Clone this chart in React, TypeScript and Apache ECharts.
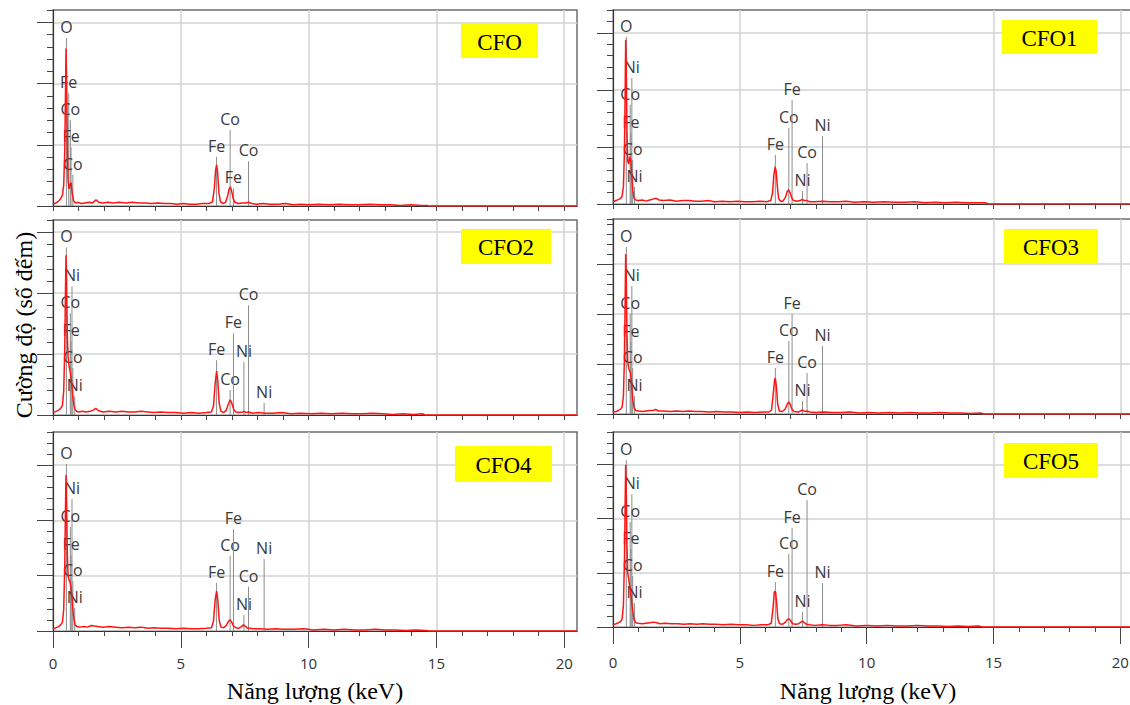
import React, { useEffect, useRef } from "react";
import * as echarts from "echarts";

// ---------- data ----------
const PANEL_NAMES = ["CFO", "CFO1", "CFO2", "CFO3", "CFO4", "CFO5"];
const X_MINOR_TICKS = [0, 1, 2, 3, 4, 5, 6, 7, 8, 9, 10, 11, 12, 13, 14, 15, 16, 17, 18, 19, 20];
const X_MAJOR_TICKS = [0, 5, 10, 15, 20];
const Y_MAJOR_TICKS = [0, 1, 2, 3];
const X_TITLE = "Năng lượng (keV)";
const Y_TITLE = "Cường độ (số đếm)";

// spectra: [energy keV, intensity (panel units)]
const SPEC_CFO: [number, number][] = [
  [0, 0.03], [0.12, 0.05], [0.22, 0.08], [0.3, 0.12], [0.37, 0.18], [0.42, 0.35], [0.46, 0.9], [0.49, 1.9], [0.51, 2.57], [0.53, 2.1], [0.56, 1.0], [0.59, 0.4], [0.63, 0.28], [0.67, 0.36], [0.71, 0.38], [0.75, 0.22], [0.8, 0.09], [0.88, 0.05], [0.98, 0.06], [1.1, 0.04], [1.25, 0.05], [1.4, 0.06], [1.55, 0.05], [1.68, 0.1], [1.8, 0.06], [1.95, 0.05], [2.15, 0.06], [2.35, 0.05], [2.6, 0.06], [2.85, 0.05], [3.1, 0.06], [3.35, 0.05], [3.6, 0.05], [3.85, 0.04], [4.1, 0.05], [4.35, 0.04], [4.6, 0.04], [4.85, 0.03], [5.1, 0.04], [5.35, 0.03], [5.6, 0.03], [5.85, 0.04], [6.1, 0.04], [6.24, 0.07], [6.31, 0.28], [6.36, 0.58], [6.4, 0.67], [6.44, 0.55], [6.49, 0.22], [6.55, 0.07], [6.65, 0.04], [6.75, 0.06], [6.83, 0.16], [6.89, 0.28], [6.94, 0.31], [6.99, 0.24], [7.05, 0.12], [7.12, 0.06], [7.25, 0.04], [7.4, 0.05], [7.55, 0.05], [7.65, 0.06], [7.78, 0.04], [7.95, 0.03], [8.2, 0.04], [8.5, 0.03], [8.8, 0.03], [9.1, 0.04], [9.4, 0.02], [9.7, 0.03], [10, 0.02], [10.4, 0.03], [10.8, 0.02], [11.2, 0.03], [11.6, 0.02], [12, 0.02], [12.4, 0.03], [12.8, 0.02], [13.2, 0.02], [13.6, 0.01], [14, 0.02], [14.4, 0.01], [14.65, 0.01], [14.7, 0], [20.5, 0],
];
const SPEC_CFO1: [number, number][] = [
  [0, 0.04], [0.12, 0.06], [0.22, 0.08], [0.3, 0.1], [0.36, 0.14], [0.41, 0.3], [0.45, 0.9], [0.48, 2.0], [0.5, 2.88], [0.52, 2.5], [0.55, 1.3], [0.58, 0.75], [0.62, 0.7], [0.66, 0.83], [0.7, 0.78], [0.74, 0.5], [0.78, 0.25], [0.83, 0.1], [0.9, 0.07], [1.0, 0.06], [1.15, 0.07], [1.3, 0.05], [1.45, 0.07], [1.6, 0.09], [1.7, 0.1], [1.82, 0.07], [2.0, 0.06], [2.25, 0.07], [2.5, 0.05], [2.75, 0.06], [3.0, 0.06], [3.25, 0.05], [3.5, 0.05], [3.75, 0.06], [4.0, 0.04], [4.3, 0.05], [4.6, 0.04], [4.9, 0.05], [5.2, 0.04], [5.5, 0.04], [5.8, 0.05], [6.05, 0.04], [6.22, 0.06], [6.29, 0.2], [6.34, 0.5], [6.39, 0.65], [6.43, 0.58], [6.48, 0.3], [6.53, 0.1], [6.6, 0.05], [6.7, 0.05], [6.8, 0.12], [6.87, 0.22], [6.92, 0.25], [6.98, 0.2], [7.05, 0.1], [7.12, 0.06], [7.25, 0.05], [7.38, 0.06], [7.46, 0.08], [7.54, 0.06], [7.65, 0.06], [7.75, 0.04], [7.95, 0.04], [8.25, 0.05], [8.55, 0.04], [8.9, 0.04], [9.2, 0.05], [9.5, 0.03], [9.9, 0.04], [10.3, 0.03], [10.7, 0.04], [11.1, 0.03], [11.5, 0.03], [11.9, 0.04], [12.3, 0.02], [12.7, 0.03], [13.1, 0.02], [13.5, 0.03], [13.9, 0.02], [14.3, 0.02], [14.7, 0.02], [14.8, 0], [20.5, 0],
];
const SPEC_CFO2: [number, number][] = [
  [0, 0.04], [0.12, 0.06], [0.22, 0.08], [0.3, 0.11], [0.37, 0.16], [0.42, 0.4], [0.46, 1.1], [0.49, 2.1], [0.51, 2.62], [0.53, 2.2], [0.56, 1.3], [0.59, 0.95], [0.63, 0.8], [0.67, 0.72], [0.71, 0.62], [0.75, 0.42], [0.79, 0.24], [0.85, 0.1], [0.92, 0.06], [1.0, 0.05], [1.15, 0.06], [1.3, 0.05], [1.45, 0.06], [1.58, 0.08], [1.67, 0.11], [1.78, 0.07], [1.95, 0.05], [2.2, 0.06], [2.45, 0.05], [2.7, 0.06], [2.95, 0.05], [3.2, 0.05], [3.45, 0.06], [3.7, 0.05], [3.95, 0.04], [4.2, 0.05], [4.5, 0.04], [4.8, 0.04], [5.1, 0.03], [5.4, 0.04], [5.7, 0.03], [6.0, 0.04], [6.2, 0.05], [6.28, 0.15], [6.34, 0.5], [6.4, 0.72], [6.45, 0.55], [6.5, 0.2], [6.57, 0.06], [6.68, 0.04], [6.78, 0.08], [6.86, 0.18], [6.93, 0.25], [6.99, 0.2], [7.06, 0.1], [7.14, 0.05], [7.3, 0.04], [7.42, 0.05], [7.48, 0.06], [7.56, 0.04], [7.66, 0.05], [7.8, 0.03], [8.05, 0.04], [8.3, 0.03], [8.6, 0.03], [8.95, 0.04], [9.3, 0.02], [9.7, 0.03], [10.1, 0.02], [10.5, 0.03], [10.9, 0.02], [11.3, 0.03], [11.7, 0.02], [12.1, 0.02], [12.5, 0.03], [12.9, 0.02], [13.3, 0.01], [13.7, 0.02], [14.1, 0.01], [14.45, 0.02], [14.55, 0], [20.5, 0],
];
const SPEC_CFO3: [number, number][] = [
  [0, 0.04], [0.12, 0.05], [0.22, 0.07], [0.3, 0.1], [0.36, 0.14], [0.41, 0.35], [0.45, 1.1], [0.48, 2.3], [0.5, 3.2], [0.52, 2.8], [0.55, 1.6], [0.58, 1.05], [0.62, 0.9], [0.66, 0.86], [0.7, 0.8], [0.74, 0.55], [0.78, 0.28], [0.83, 0.12], [0.9, 0.07], [1.0, 0.06], [1.15, 0.05], [1.3, 0.06], [1.45, 0.07], [1.58, 0.07], [1.68, 0.09], [1.8, 0.06], [2.0, 0.06], [2.25, 0.05], [2.5, 0.06], [2.75, 0.05], [3.0, 0.06], [3.25, 0.05], [3.5, 0.05], [3.8, 0.04], [4.1, 0.05], [4.4, 0.04], [4.7, 0.04], [5.0, 0.03], [5.3, 0.04], [5.6, 0.03], [5.9, 0.04], [6.15, 0.04], [6.25, 0.08], [6.32, 0.42], [6.37, 0.68], [6.4, 0.72], [6.44, 0.56], [6.49, 0.2], [6.56, 0.06], [6.68, 0.05], [6.79, 0.1], [6.87, 0.2], [6.93, 0.24], [6.99, 0.19], [7.06, 0.09], [7.14, 0.05], [7.3, 0.04], [7.4, 0.06], [7.47, 0.08], [7.55, 0.05], [7.65, 0.06], [7.76, 0.04], [8.0, 0.03], [8.3, 0.04], [8.65, 0.03], [9.0, 0.03], [9.35, 0.04], [9.7, 0.02], [10.1, 0.03], [10.5, 0.02], [10.9, 0.03], [11.3, 0.02], [11.7, 0.03], [12.1, 0.02], [12.5, 0.02], [12.9, 0.03], [13.3, 0.02], [13.7, 0.02], [14.1, 0.01], [14.5, 0.02], [14.6, 0], [20.5, 0],
];
const SPEC_CFO4: [number, number][] = [
  [0, 0.04], [0.12, 0.06], [0.22, 0.08], [0.3, 0.11], [0.37, 0.16], [0.42, 0.4], [0.46, 1.2], [0.49, 2.3], [0.51, 2.82], [0.53, 2.4], [0.56, 1.4], [0.59, 1.0], [0.63, 0.92], [0.67, 0.88], [0.71, 0.78], [0.75, 0.55], [0.8, 0.28], [0.86, 0.11], [0.94, 0.08], [1.05, 0.07], [1.2, 0.08], [1.35, 0.07], [1.5, 0.1], [1.62, 0.09], [1.75, 0.08], [1.95, 0.07], [2.2, 0.08], [2.45, 0.07], [2.7, 0.06], [2.95, 0.07], [3.2, 0.06], [3.45, 0.07], [3.7, 0.05], [3.95, 0.06], [4.2, 0.05], [4.5, 0.05], [4.8, 0.04], [5.1, 0.05], [5.4, 0.04], [5.7, 0.04], [6.0, 0.05], [6.2, 0.06], [6.28, 0.18], [6.34, 0.55], [6.4, 0.72], [6.45, 0.55], [6.5, 0.2], [6.57, 0.07], [6.68, 0.06], [6.78, 0.1], [6.87, 0.18], [6.93, 0.2], [6.99, 0.16], [7.06, 0.09], [7.15, 0.06], [7.28, 0.05], [7.38, 0.08], [7.45, 0.11], [7.52, 0.09], [7.6, 0.05], [7.7, 0.05], [7.85, 0.04], [8.1, 0.04], [8.4, 0.03], [8.7, 0.04], [9.0, 0.03], [9.4, 0.03], [9.8, 0.04], [10.2, 0.02], [10.6, 0.03], [11.0, 0.02], [11.4, 0.03], [11.8, 0.02], [12.2, 0.02], [12.6, 0.03], [13.0, 0.02], [13.4, 0.02], [13.8, 0.01], [14.2, 0.02], [14.6, 0.01], [14.7, 0], [20.5, 0],
];
const SPEC_CFO5: [number, number][] = [
  [0, 0.04], [0.12, 0.06], [0.22, 0.08], [0.3, 0.1], [0.36, 0.15], [0.41, 0.4], [0.45, 1.2], [0.48, 2.3], [0.5, 2.99], [0.52, 2.6], [0.55, 1.5], [0.58, 1.0], [0.62, 0.88], [0.66, 0.75], [0.7, 0.62], [0.74, 0.45], [0.78, 0.3], [0.83, 0.13], [0.9, 0.08], [1.0, 0.07], [1.15, 0.06], [1.3, 0.07], [1.45, 0.08], [1.6, 0.09], [1.72, 0.08], [1.85, 0.06], [2.05, 0.07], [2.3, 0.06], [2.55, 0.06], [2.8, 0.05], [3.05, 0.06], [3.3, 0.05], [3.55, 0.06], [3.8, 0.05], [4.05, 0.05], [4.35, 0.04], [4.65, 0.05], [4.95, 0.04], [5.25, 0.04], [5.55, 0.03], [5.85, 0.04], [6.1, 0.04], [6.24, 0.07], [6.31, 0.35], [6.36, 0.65], [6.41, 0.65], [6.45, 0.45], [6.5, 0.15], [6.57, 0.06], [6.68, 0.05], [6.8, 0.09], [6.88, 0.14], [6.94, 0.15], [7.0, 0.12], [7.08, 0.06], [7.2, 0.05], [7.32, 0.06], [7.4, 0.09], [7.47, 0.11], [7.54, 0.08], [7.63, 0.05], [7.75, 0.04], [7.95, 0.03], [8.25, 0.04], [8.55, 0.03], [8.85, 0.03], [9.2, 0.04], [9.6, 0.02], [10.0, 0.03], [10.4, 0.02], [10.8, 0.03], [11.2, 0.02], [11.6, 0.02], [12.0, 0.03], [12.4, 0.02], [12.8, 0.02], [13.2, 0.01], [13.6, 0.02], [14.0, 0.01], [14.4, 0.02], [14.55, 0], [20.5, 0],
];

// element markers: [label, energy keV, marker height (panel units)]
const MARK_CFO: [string, number, number][] = [
  ["O", 0.525, 2.74], ["Fe", 0.615, 1.84], ["Co", 0.678, 1.4], ["Fe", 0.705, 0.96], ["Co", 0.776, 0.51],
  ["Fe", 6.4, 0.8], ["Co", 6.93, 1.24], ["Fe", 7.06, 0.29], ["Co", 7.65, 0.73],
];
const MARK_CFO1: [string, number, number][] = [
  ["O", 0.525, 2.93], ["Ni", 0.743, 2.21], ["Co", 0.678, 1.74], ["Fe", 0.705, 1.25], ["Co", 0.776, 0.77], ["Ni", 0.851, 0.3],
  ["Fe", 6.4, 0.86], ["Co", 6.93, 1.33], ["Fe", 7.06, 1.82], ["Ni", 7.47, 0.23], ["Co", 7.65, 0.72], ["Ni", 8.26, 1.19],
];
const MARK_CFO2: [string, number, number][] = [
  ["O", 0.525, 2.75], ["Ni", 0.743, 2.11], ["Co", 0.678, 1.67], ["Fe", 0.705, 1.21], ["Co", 0.776, 0.77], ["Ni", 0.851, 0.31],
  ["Fe", 6.4, 0.9], ["Co", 6.93, 0.41], ["Fe", 7.06, 1.34], ["Ni", 7.47, 0.87], ["Co", 7.65, 1.8], ["Ni", 8.26, 0.2],
];
const MARK_CFO3: [string, number, number][] = [
  ["O", 0.525, 3.34], ["Ni", 0.743, 2.56], ["Co", 0.678, 2.0], ["Fe", 0.705, 1.44], ["Co", 0.776, 0.92], ["Ni", 0.851, 0.36],
  ["Fe", 6.4, 0.92], ["Co", 6.93, 1.46], ["Fe", 7.06, 2.0], ["Ni", 7.47, 0.26], ["Co", 7.65, 0.82], ["Ni", 8.26, 1.36],
];
const MARK_CFO4: [string, number, number][] = [
  ["O", 0.525, 3.02], ["Ni", 0.743, 2.39], ["Co", 0.678, 1.88], ["Fe", 0.705, 1.37], ["Co", 0.776, 0.9], ["Ni", 0.851, 0.42],
  ["Fe", 6.4, 0.87], ["Co", 6.93, 1.36], ["Fe", 7.06, 1.84], ["Ni", 7.47, 0.29], ["Co", 7.65, 0.8], ["Ni", 8.26, 1.3],
];
const MARK_CFO5: [string, number, number][] = [
  ["O", 0.525, 3.08], ["Ni", 0.743, 2.45], ["Co", 0.678, 1.94], ["Fe", 0.705, 1.44], ["Co", 0.776, 0.94], ["Ni", 0.851, 0.44],
  ["Fe", 6.4, 0.83], ["Co", 6.93, 1.35], ["Fe", 7.06, 1.83], ["Ni", 7.47, 0.28], ["Co", 7.65, 2.34], ["Ni", 8.26, 0.81],
];

const SPECTRA = [SPEC_CFO, SPEC_CFO1, SPEC_CFO2, SPEC_CFO3, SPEC_CFO4, SPEC_CFO5];
const MARKERS = [MARK_CFO, MARK_CFO1, MARK_CFO2, MARK_CFO3, MARK_CFO4, MARK_CFO5];
const Y_MAX = [3.2, 3.4, 3.2, 3.9, 3.6, 3.6];
const X_MAX = 20.5;

// ---------- layout ----------
const PANELS = [
  { left: 53, top: 10, width: 524, height: 196, bottomRow: false, box: [461, 24, 77, 34] },
  { left: 613, top: 10, width: 520, height: 194, bottomRow: false, box: [1002, 20, 95, 34] },
  { left: 53, top: 220, width: 524, height: 195, bottomRow: false, box: [461, 229, 90, 35] },
  { left: 613, top: 219, width: 520, height: 195, bottomRow: false, box: [1004, 229, 94, 35] },
  { left: 53, top: 432, width: 524, height: 199, bottomRow: true, box: [455, 446, 97, 36] },
  { left: 613, top: 432, width: 520, height: 195, bottomRow: true, box: [1004, 443, 94, 35] },
];

const SANS = "'Open Sans', 'Noto Sans', sans-serif";
const SERIF = "'Liberation Serif', 'DejaVu Serif', serif";

function buildOption() {
  const grid: any[] = [];
  const xAxis: any[] = [];
  const yAxis: any[] = [];
  const series: any[] = [];
  const graphic: any[] = [];

  PANELS.forEach((p, i) => {
    grid.push({
      left: p.left, top: p.top, width: p.width, height: p.height,
      show: true, borderColor: "#6e6e6e", borderWidth: 1.5, backgroundColor: "transparent",
    });
    xAxis.push({
      gridIndex: i, type: "value", min: 0, max: X_MAX, interval: 1, position: "bottom",
      axisLine: { show: true, onZero: false, lineStyle: { color: "#333", width: 1.2 } },
      axisTick: { show: true, length: 5, customValues: X_MINOR_TICKS, lineStyle: { color: "#444" } },
      axisLabel: { show: false },
      splitLine: { show: false },
    });
    xAxis.push({
      gridIndex: i, type: "value", min: 0, max: X_MAX, interval: 5, position: "bottom",
      axisLine: { show: false, onZero: false },
      axisTick: { show: true, length: p.bottomRow ? 17 : 5, customValues: X_MAJOR_TICKS, lineStyle: { color: "#444" } },
      axisLabel: {
        show: p.bottomRow, customValues: X_MAJOR_TICKS, margin: i === 4 ? 24 : 27,
        fontSize: 15, color: "#333", fontFamily: SANS,
      },
      splitLine: { show: true, lineStyle: { color: "#d3d3d3", width: 1.5 } },
    });
    yAxis.push({
      gridIndex: i, type: "value", min: 0, max: Y_MAX[i], interval: 0.2, position: "left",
      axisLine: { show: true, onZero: false, lineStyle: { color: "#333", width: 1.2 } },
      axisTick: { show: true, length: 6, lineStyle: { color: "#444" } },
      axisLabel: { show: false },
      splitLine: { show: false },
    });
    yAxis.push({
      gridIndex: i, type: "value", min: 0, max: Y_MAX[i], interval: 1, position: "left",
      axisLine: { show: false, onZero: false },
      axisTick: { show: true, length: 16, customValues: Y_MAJOR_TICKS, lineStyle: { color: "#444" } },
      axisLabel: { show: false },
      splitLine: { show: true, lineStyle: { color: "#d3d3d3", width: 1.5 } },
    });

    const marks = MARKERS[i];
    series.push({
      type: "custom",
      name: PANEL_NAMES[i] + " markers",
      xAxisIndex: 2 * i, yAxisIndex: 2 * i,
      z: 1, silent: true, clip: false,
      data: marks.map((m) => [m[1], m[2]]),
      encode: { x: 0, y: 1 },
      renderItem: (params: any, api: any) => {
        const m = marks[params.dataIndex];
        const top = api.coord([m[1], m[2]]);
        const bot = api.coord([m[1], 0]);
        return {
          type: "group",
          children: [
            {
              type: "line",
              shape: { x1: top[0], y1: top[1], x2: bot[0], y2: bot[1] },
              style: { stroke: "#8c8c8c", lineWidth: 1 },
            },
            {
              type: "text",
              x: top[0], y: top[1] - 3,
              style: {
                text: m[0], align: "center", verticalAlign: "bottom",
                textAlign: "center", textVerticalAlign: "bottom",
                fill: "#3a3a3a", fontSize: 16, fontFamily: SANS,
              },
            },
          ],
        };
      },
    });
    series.push({
      type: "line",
      name: PANEL_NAMES[i],
      xAxisIndex: 2 * i, yAxisIndex: 2 * i,
      z: 3, silent: true,
      data: SPECTRA[i],
      symbol: "none", showSymbol: false,
      lineStyle: { color: "#ff1414", width: 1.5 },
    });

    const [bx, by, bw, bh] = p.box;
    graphic.push({
      type: "group",
      z: 100,
      children: [
        { type: "rect", z: 100, shape: { x: bx, y: by, width: bw, height: bh }, style: { fill: "#ffff00" } },
        {
          type: "text", z: 101, x: bx + bw / 2, y: by + bh / 2 + 1,
          style: {
            text: PANEL_NAMES[i], align: "center", verticalAlign: "middle",
            textAlign: "center", textVerticalAlign: "middle",
            fill: "#000", fontSize: 23, fontFamily: SERIF,
          },
        },
      ],
    });
  });

  graphic.push(
    {
      type: "text", x: 315, y: 691, z: 100,
      style: { text: X_TITLE, align: "center", verticalAlign: "middle", textAlign: "center", textVerticalAlign: "middle", fill: "#000", fontSize: 24, fontFamily: SERIF },
    },
    {
      type: "text", x: 868, y: 691, z: 100,
      style: { text: X_TITLE, align: "center", verticalAlign: "middle", textAlign: "center", textVerticalAlign: "middle", fill: "#000", fontSize: 24, fontFamily: SERIF },
    },
    {
      type: "text", x: 24, y: 325, rotation: Math.PI / 2, z: 100,
      style: { text: Y_TITLE, align: "center", verticalAlign: "middle", textAlign: "center", textVerticalAlign: "middle", fill: "#000", fontSize: 24, fontFamily: SERIF },
    }
  );

  return {
    animation: false,
    backgroundColor: "#ffffff",
    grid, xAxis, yAxis, series, graphic,
  };
}

export default function App() {
  const ref = useRef<HTMLDivElement>(null);
  useEffect(() => {
    if (!ref.current) return;
    const chart = echarts.init(ref.current, undefined, { renderer: "svg" });
    chart.setOption(buildOption() as any);
    return () => chart.dispose();
  }, []);
  return (
    <div style={{ position: "absolute", left: 0, top: 0, width: 1130, height: 705, overflow: "hidden", background: "#fff" }}>
      <div ref={ref} style={{ width: 1140, height: 705 }} />
    </div>
  );
}
